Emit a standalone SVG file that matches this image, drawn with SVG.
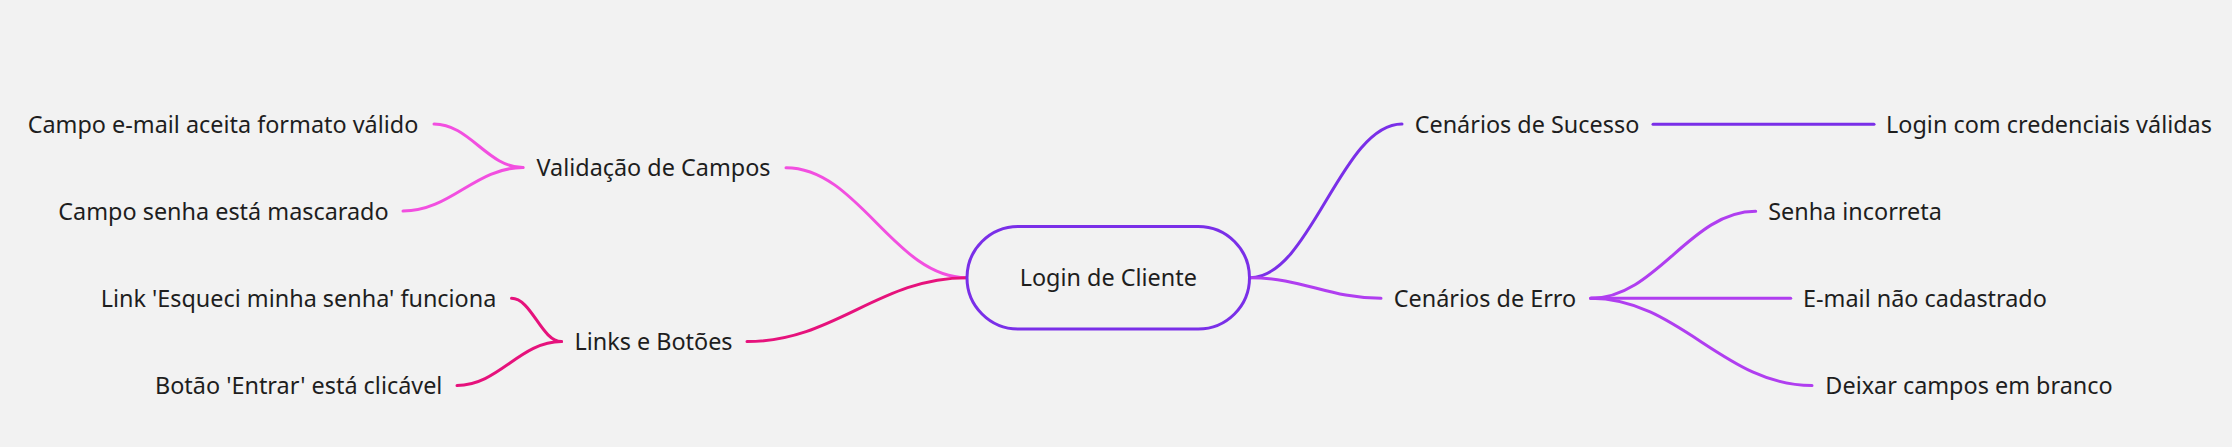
<svg xmlns="http://www.w3.org/2000/svg" width="2232" height="447" viewBox="0 0 2232 447">
<style>
text{font-family:"Noto Sans","Open Sans","Liberation Sans",sans-serif;font-size:23.4px;fill:#1e1e1e;text-anchor:middle}
.c{fill:none;stroke-width:3;stroke-linecap:round}
.suc{stroke:#7a2fe8}
.err{stroke:#b03ef0}
.val{stroke:#f24fe0}
.lnk{stroke:#e6127c}
</style>
<rect width="2232" height="447" fill="#f2f2f2"/>
<g id="connectors">
<path class="c suc" d="M1250,277.7 C1310.8,277.7 1341.2,124 1402,124"/>
<path class="c err" d="M1250,277.7 C1302.4,277.7 1328.6,298.3 1381,298.3"/>
<path class="c val" d="M966.7,277.7 C894.4,277.7 858.3,167.7 786,167.7"/>
<path class="c lnk" d="M966.7,277.7 C878.8,277.7 834.9,341.6 747,341.6"/>
<path class="c val" d="M523,167.5 C487.4,167.5 469.6,124 434,124"/>
<path class="c val" d="M523,167.5 C475,167.5 451,211 403,211"/>
<path class="c lnk" d="M561.5,341.6 C541.5,341.6 531.5,298.3 511.5,298.3"/>
<path class="c lnk" d="M561.5,341.6 C519.7,341.6 498.8,385.5 457,385.5"/>
<path class="c err" d="M1590.7,298.3 C1656.7,298.3 1689.7,211.3 1755.7,211.3"/>
<path class="c err" d="M1590.7,298.3 L1790.7,298.3"/>
<path class="c err" d="M1590.7,298.3 C1679.2,298.3 1723.5,385.5 1812,385.5"/>
<path class="c suc" d="M1653,124.3 L1874,124.3"/>
</g>
<g id="root">
<rect x="967" y="226.5" width="282.5" height="102.5" rx="51.25" fill="#f2f2f2" stroke="#7a2fe8" stroke-width="3"/>
<text x="1108.3" y="286.4">Login de Cliente</text>
</g>
<g id="n-sucesso"><text x="1527" y="132.7">Cenários de Sucesso</text></g>
<g id="n-login-validas"><text x="2049" y="132.7">Login com credenciais válidas</text></g>
<g id="n-erro"><text x="1485" y="306.7">Cenários de Erro</text></g>
<g id="n-senha-incorreta"><text x="1855" y="219.7">Senha incorreta</text></g>
<g id="n-email-nao"><text x="1925" y="306.7">E-mail não cadastrado</text></g>
<g id="n-deixar"><text x="1969" y="394.2">Deixar campos em branco</text></g>
<g id="n-validacao"><text x="653.5" y="176.2">Validação de Campos</text></g>
<g id="n-campo-email"><text x="223" y="132.7">Campo e-mail aceita formato válido</text></g>
<g id="n-campo-senha"><text x="223.5" y="219.7">Campo senha está mascarado</text></g>
<g id="n-links"><text x="653.5" y="350.2">Links e Botões</text></g>
<g id="n-link-esqueci"><text x="298.5" y="306.7">Link 'Esqueci minha senha' funciona</text></g>
<g id="n-botao"><text x="298.7" y="394.2">Botão 'Entrar' está clicável</text></g>
</svg>
